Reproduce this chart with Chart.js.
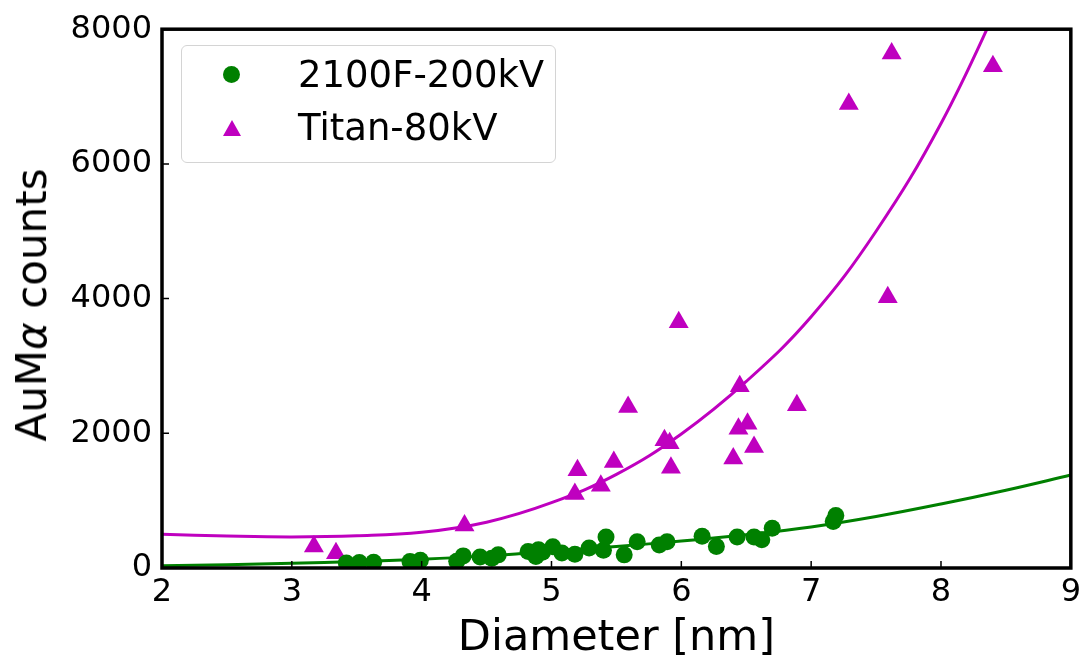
<!DOCTYPE html>
<html>
<head>
<meta charset="utf-8">
<script src="https://cdn.jsdelivr.net/npm/chart.js@4.4.0/dist/chart.umd.min.js"></script>
<style>
body { margin: 0; background: #fff; }
#wrap { position: relative; width: 1086px; height: 660px; font-family: 'DejaVu Sans', sans-serif; color: #000; }
#ytitle { position: absolute; left: 32px; top: 305px; transform: translate(-50%, -50%) rotate(-90deg); font-size: 42px; line-height: 1; white-space: nowrap; }
#legend { position: absolute; left: 181px; top: 45px; width: 373px; height: 116px; border: 1.5px solid #d4d4d4; border-radius: 6px; background: rgba(255,255,255,0.8); }
.lab { position: absolute; left: 116px; font-size: 37px; line-height: 1; white-space: nowrap; }
.dot { position: absolute; left: 41px; top: 20px; width: 17px; height: 17px; border-radius: 50%; background: #008000; }
.tri { position: absolute; left: 41px; top: 74px; width: 0; height: 0; border-left: 9px solid transparent; border-right: 9px solid transparent; border-bottom: 16px solid #bf00bf; }
</style>
</head>
<body>
<div id="wrap">
  <canvas id="chart" width="1086" height="660"></canvas>
  <div id="ytitle">AuM<i>α</i> counts</div>
  <div id="legend">
    <div class="dot"></div><div class="lab" style="top:10px">2100F-200kV</div>
    <div class="tri"></div><div class="lab" style="top:63px">Titan-80kV</div>
  </div>
</div>
<script>
// measured points, 2100F at 200 kV
const greenX = [3.42, 3.52, 3.63, 3.91, 3.99, 4.27, 4.32, 4.45, 4.54, 4.59, 4.82, 4.88, 4.90, 4.93, 5.01, 5.08,
                5.18, 5.29, 5.40, 5.42, 5.56, 5.66, 5.83, 5.89, 6.16, 6.27, 6.43, 6.56, 6.62, 6.70, 7.17, 7.19];
const greenY = [75, 80, 85, 95, 115, 100, 180, 165, 145, 195, 245, 170, 270, 235, 315, 222,
                205, 296, 265, 460, 195, 390, 340, 390, 470, 320, 460, 460, 420, 590, 690, 780];

// measured points, Titan at 80 kV
const titanX = [3.17, 3.34, 4.33, 5.18, 5.20, 5.38, 5.48, 5.59, 5.87, 5.91, 5.92, 5.98, 6.40, 6.44, 6.45,
                6.51, 6.56, 6.89, 7.29, 7.59, 7.62, 8.40];
const titanY = [320, 220, 630, 1100, 1452, 1220, 1575, 2390, 1896, 1852, 1490, 3649, 1625, 2069, 2700,
                2143, 1797, 2415, 6890, 4020, 7640, 7450];

// fitted curves
const greenFitX = [2, 2.5, 3, 3.5, 4, 4.5, 5, 5.5, 6, 6.5, 7, 7.5, 8, 8.5, 9];
const greenFit = [35, 50, 70, 95, 130, 180, 250, 320, 400, 495, 610, 765, 950, 1155, 1380];
const titanFitX = [2, 2.5, 3, 3.5, 4, 4.5, 5, 5.5, 6, 6.5, 7, 7.5, 8, 8.5];
const titanFit = [500, 475, 462, 478, 530, 680, 970, 1390, 1990, 2770, 3730, 5000, 6600, 8600];

const xTicks = [2, 3, 4, 5, 6, 7, 8, 9];
const yTicks = [0, 2000, 4000, 6000, 8000];

const GREEN = '#008000';
const MAGENTA = '#bf00bf';
const FONT = 'DejaVu Sans';

function pts(xs, ys) {
  return xs.map((x, i) => ({x: x, y: ys[i]}));
}

// box round the plot and inward ticks, like matplotlib
const frame = {
  id: 'frame',
  afterDraw(chart) {
    const {ctx, chartArea: a, scales: {x, y}} = chart;
    ctx.save();
    ctx.strokeStyle = '#000';
    ctx.lineWidth = 1.5;
    ctx.beginPath();
    x.ticks.forEach(t => {
      const px = x.getPixelForValue(t.value);
      ctx.moveTo(px, a.bottom);
      ctx.lineTo(px, a.bottom - 7);
    });
    y.ticks.forEach(t => {
      const py = y.getPixelForValue(t.value);
      ctx.moveTo(a.left, py);
      ctx.lineTo(a.left + 7, py);
    });
    ctx.stroke();
    ctx.lineWidth = 3.5;
    ctx.strokeRect(a.left, a.top, a.right - a.left, a.bottom - a.top);
    ctx.restore();
  }
};

new Chart(document.getElementById('chart'), {
  type: 'scatter',
  data: {
    datasets: [{
      label: '2100F-200kV',
      data: pts(greenX, greenY),
      backgroundColor: GREEN,
      borderWidth: 0,
      pointRadius: 8.5
    }, {
      label: 'Titan-80kV',
      data: pts(titanX, titanY),
      backgroundColor: MAGENTA,
      borderWidth: 0,
      pointStyle: 'triangle',
      pointRadius: 11.5
    }, {
      type: 'line',
      data: pts(greenFitX, greenFit),
      borderColor: GREEN,
      borderWidth: 3,
      pointRadius: 0,
      tension: 0.4,
      fill: false
    }, {
      type: 'line',
      data: pts(titanFitX, titanFit),
      borderColor: MAGENTA,
      borderWidth: 3,
      pointRadius: 0,
      tension: 0.4,
      fill: false
    }]
  },
  options: {
    responsive: false,
    animation: false,
    layout: {padding: {left: 0, top: 28, right: 13, bottom: 0}},
    scales: {
      x: {
        type: 'linear',
        min: 2,
        max: 9,
        afterBuildTicks: s => { s.ticks = xTicks.map(v => ({value: v})); },
        ticks: {color: '#000', font: {size: 32, family: FONT}, padding: 5, callback: v => String(v)},
        grid: {display: false, drawTicks: false},
        border: {display: false},
        title: {display: true, text: 'Diameter [nm]', color: '#000', font: {size: 43, family: FONT, lineHeight: 1}, padding: 0},
        afterFit: s => { s.height = 92; }
      },
      y: {
        type: 'linear',
        min: 0,
        max: 8000,
        afterBuildTicks: s => { s.ticks = yTicks.map(v => ({value: v})); },
        ticks: {color: '#000', font: {size: 32, family: FONT}, padding: 10, callback: v => String(v)},
        grid: {display: false, drawTicks: false},
        border: {display: false},
        afterFit: s => { s.width = 162; }
      }
    },
    plugins: {
      legend: {display: false},
      tooltip: {enabled: false}
    }
  },
  plugins: [frame]
});
</script>
</body>
</html>
